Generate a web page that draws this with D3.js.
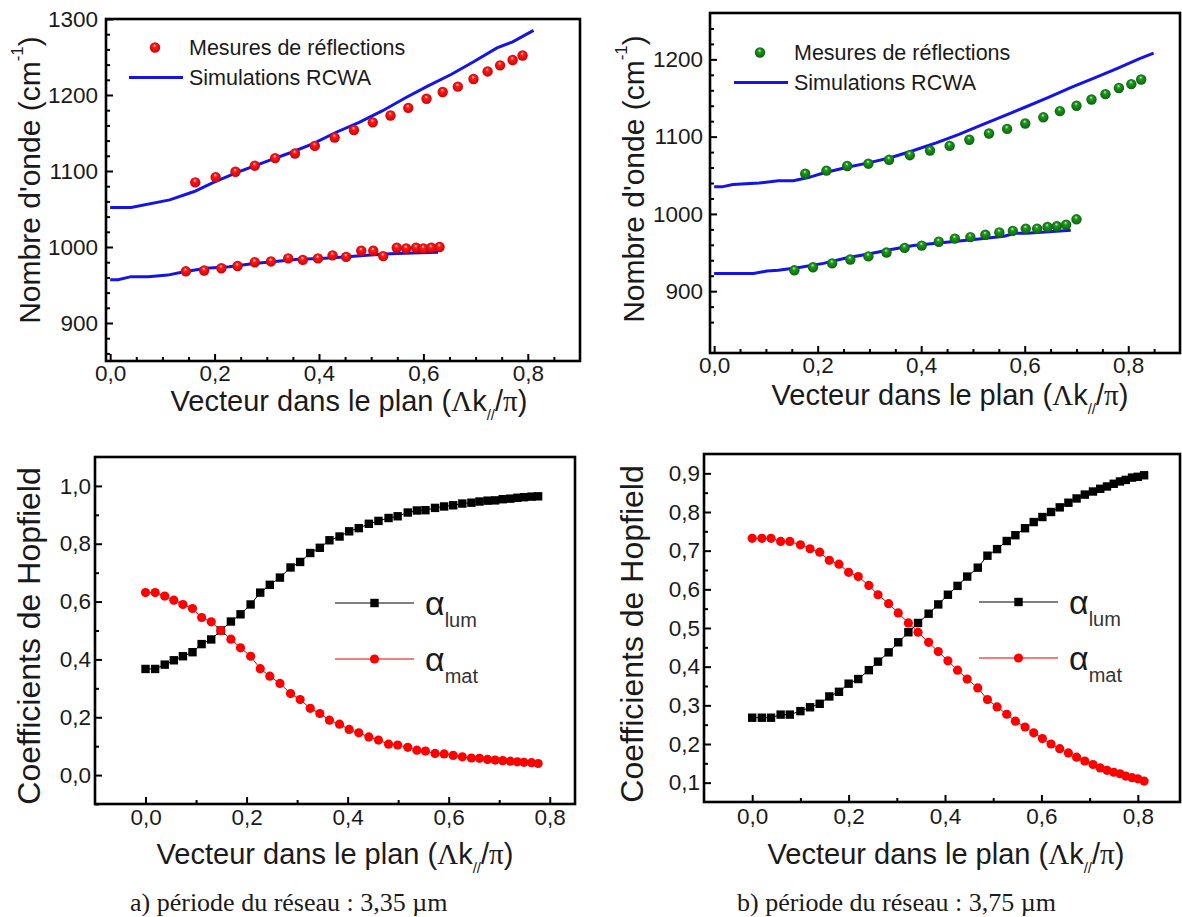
<!DOCTYPE html>
<html>
<head>
<meta charset="utf-8">
<script src="https://cdn.jsdelivr.net/npm/d3@7"></script>
<style>
  body { margin: 0; background: #fff; }
  svg text { font-family: "Liberation Sans", Arial, sans-serif; fill: #1a1a1a; }
</style>
</head>
<body>
<div id="chart"></div>
<script>
// ---- panel a) : dispersion, period 3.35 um ----
const kA_up = [0.163,0.202,0.240,0.277,0.316,0.354,0.392,0.430,0.467,0.503,0.537,0.571,0.606,0.637,0.666,0.696,0.723,0.747,0.771,0.790];
const wA_up = [1085,1092,1099,1107,1117,1123,1133,1144,1154,1164,1173,1183,1195,1204,1211,1221,1231,1239,1246,1252];
const kA_lo = [0.145,0.180,0.213,0.244,0.277,0.308,0.341,0.369,0.398,0.426,0.452,0.481,0.504,0.523,0.549,0.567,0.586,0.600,0.615,0.631];
const wA_lo = [968,969,972,975,980,981,985,983,985,989,987,995,995,988,999,998,999,998,999,1000];
const kA_simUp = [0,0.04,0.114,0.161,0.198,0.242,0.301,0.345,0.389,0.433,0.477,0.521,0.565,0.609,0.653,0.697,0.741,0.771,0.811];
const wA_simUp = [1052,1052,1062,1073,1085,1098,1113,1124,1136,1151,1164,1179,1196,1212,1227,1244,1262,1270,1285];
const kA_simLo = [0,0.015,0.04,0.073,0.11,0.139,0.183,0.228,0.272,0.316,0.36,0.404,0.448,0.492,0.536,0.58,0.628];
const wA_simLo = [957,957,961,961,963,967,972,974,978,981,984,985,987,989,991,992,993];

// ---- panel b) : dispersion, period 3.75 um ----
const kB_up = [0.176,0.217,0.257,0.298,0.338,0.378,0.417,0.455,0.493,0.531,0.566,0.601,0.636,0.668,0.700,0.729,0.756,0.782,0.806,0.825];
const wB_up = [1052,1056,1062,1065,1070,1076,1082,1088,1096,1104,1110,1117,1125,1133,1140,1148,1155,1163,1168,1174];
const kB_lo = [0.155,0.191,0.228,0.263,0.298,0.333,0.368,0.401,0.434,0.465,0.495,0.524,0.551,0.577,0.602,0.624,0.644,0.662,0.680,0.700];
const wB_lo = [927,931,936,941,945,950,956,959,964,968,970,973,976,978,981,981,983,984,986,993];
const kB_simUp = [0,0.015,0.036,0.087,0.124,0.153,0.182,0.211,0.255,0.298,0.342,0.385,0.429,0.473,0.516,0.56,0.604,0.647,0.691,0.735,0.778,0.822,0.849];
const wB_simUp = [1035,1035,1038,1040,1043,1043,1047,1053,1060,1066,1073,1082,1092,1103,1115,1127,1139,1151,1164,1176,1188,1201,1208];
const kB_simLo = [0,0.076,0.102,0.124,0.167,0.211,0.255,0.298,0.342,0.385,0.429,0.473,0.516,0.56,0.582,0.604,0.647,0.689];
const wB_simLo = [923,923,926,927,931,936,943,948,954,959,962,965,968,971,975,975,977,979];

// ---- Hopfield coefficients ----
const kC = [0,0.019,0.038,0.056,0.074,0.093,0.111,0.130,0.149,0.169,0.188,0.208,0.227,0.246,0.266,0.287,0.306,0.326,0.345,0.364,0.384,0.403,0.422,0.442,0.461,0.481,0.499,0.519,0.537,0.554,0.573,0.591,0.609,0.627,0.645,0.661,0.677,0.692,0.707,0.722,0.736,0.749,0.764,0.777];
const lumC = [0.367,0.367,0.382,0.397,0.411,0.425,0.453,0.469,0.500,0.531,0.556,0.590,0.631,0.658,0.683,0.718,0.737,0.768,0.786,0.812,0.825,0.843,0.854,0.869,0.879,0.889,0.895,0.908,0.915,0.916,0.924,0.929,0.933,0.939,0.942,0.946,0.949,0.950,0.954,0.956,0.959,0.961,0.963,0.964];
const matC = [0.631,0.631,0.619,0.605,0.590,0.576,0.545,0.530,0.500,0.470,0.440,0.411,0.368,0.342,0.317,0.282,0.261,0.231,0.213,0.190,0.176,0.158,0.146,0.132,0.121,0.107,0.104,0.096,0.086,0.083,0.075,0.073,0.068,0.063,0.059,0.058,0.054,0.052,0.050,0.048,0.046,0.044,0.043,0.040];

const kD = [0,0.020,0.039,0.059,0.078,0.100,0.120,0.140,0.160,0.180,0.200,0.220,0.242,0.261,0.283,0.303,0.324,0.344,0.366,0.386,0.406,0.426,0.446,0.468,0.488,0.508,0.528,0.546,0.566,0.584,0.602,0.620,0.638,0.656,0.673,0.690,0.707,0.722,0.736,0.750,0.763,0.775,0.788,0.800,0.813];
const lumD = [0.268,0.268,0.268,0.276,0.276,0.285,0.295,0.304,0.323,0.335,0.356,0.368,0.391,0.413,0.437,0.463,0.489,0.513,0.537,0.561,0.586,0.609,0.633,0.656,0.687,0.704,0.725,0.740,0.758,0.774,0.787,0.800,0.812,0.824,0.835,0.845,0.853,0.860,0.866,0.873,0.879,0.883,0.889,0.891,0.895];
const matD = [0.732,0.732,0.732,0.724,0.724,0.715,0.705,0.696,0.675,0.665,0.644,0.633,0.610,0.586,0.563,0.539,0.513,0.489,0.463,0.439,0.415,0.391,0.368,0.345,0.315,0.296,0.277,0.259,0.244,0.229,0.214,0.200,0.188,0.177,0.166,0.156,0.147,0.138,0.132,0.127,0.123,0.117,0.113,0.110,0.104];

// ---- ticks ----
const xMajor = [0, 0.2, 0.4, 0.6, 0.8];
const xMinorTop = [0.05,0.1,0.15,0.25,0.3,0.35,0.45,0.5,0.55,0.65,0.7,0.75,0.85];
const xMinorBot = [0.1, 0.3, 0.5, 0.7];
const yMajorA = [900, 1000, 1100, 1200, 1300];
const yMajorB = [900, 1000, 1100, 1200];
const yMinorW = [860,880,920,940,960,980,1020,1040,1060,1080,1120,1140,1160,1180,1220,1240,1260,1280];
const yMajorC = [0, 0.2, 0.4, 0.6, 0.8, 1.0];
const yMinorC = [-0.1, 0.1, 0.3, 0.5, 0.7, 0.9];
const yMajorD = [0.1,0.2,0.3,0.4,0.5,0.6,0.7,0.8,0.9];
const yMinorD = [0.15,0.25,0.35,0.45,0.55,0.65,0.75,0.85];

const legendA = ["Mesures de réflections", "Simulations RCWA"];
const captions = ["a) période du réseau : 3,35 µm", "b) période du réseau : 3,75 µm"];

const W = 1182, H = 917;
const svg = d3.select("#chart").append("svg").attr("width", W).attr("height", H);
const defs = svg.append("defs");

function sphere(id, hi, mid, dark) {
    const g = defs.append("radialGradient").attr("id", id)
        .attr("cx", "50%").attr("cy", "50%").attr("r", "55%")
        .attr("fx", "45%").attr("fy", "28%");
    g.append("stop").attr("offset", "0%").attr("stop-color", hi);
    g.append("stop").attr("offset", "30%").attr("stop-color", mid);
    g.append("stop").attr("offset", "100%").attr("stop-color", dark);
}
sphere("redBall", "#ffe0e0", "#ff1a1a", "#c80000");
sphere("greenBall", "#d8f0d8", "#1d9a1d", "#0b5c0b");

const fmtComma = d => d3.format(".1f")(d).replace(".", ",");
const TICK_FONT = "22.5px";

function panel(p) {
    const g = svg.append("g");
    const x = d3.scaleLinear().domain(p.xDomain).range([p.left, p.right]);
    const y = d3.scaleLinear().domain(p.yDomain).range([p.bottom, p.top]);

    const axes = [
        g.append("g").attr("transform", `translate(0,${p.bottom})`)
            .call(d3.axisBottom(x).tickValues(p.xMinor).tickSize(-4).tickSizeOuter(0).tickFormat("")),
        g.append("g").attr("transform", `translate(0,${p.bottom})`)
            .call(d3.axisBottom(x).tickValues(xMajor).tickSize(-7).tickSizeOuter(0)
                .tickPadding(p.xPad).tickFormat(fmtComma)),
        g.append("g").attr("transform", `translate(${p.left},0)`)
            .call(d3.axisLeft(y).tickValues(p.yMinor).tickSize(-4).tickSizeOuter(0).tickFormat("")),
        g.append("g").attr("transform", `translate(${p.left},0)`)
            .call(d3.axisLeft(y).tickValues(p.yMajor).tickSize(-7).tickSizeOuter(0)
                .tickPadding(p.yPad).tickFormat(p.yFmt))
    ];
    axes.forEach(a => {
        a.select(".domain").remove();
        a.selectAll("line").attr("stroke", "#000").attr("stroke-width", 2);
        a.selectAll("text").style("font-size", TICK_FONT);
    });

    g.append("rect")
        .attr("x", p.left).attr("y", p.top)
        .attr("width", p.right - p.left).attr("height", p.bottom - p.top)
        .attr("fill", "none").attr("stroke", "#000").attr("stroke-width", 2.6);

    // x title
    const xt = g.append("text").attr("x", p.xTitle[0]).attr("y", p.xTitle[1])
        .attr("text-anchor", "middle").style("font-size", "29px");
    xt.append("tspan").text("Vecteur dans le plan (");
    xt.append("tspan").style("font-family", "'Liberation Serif', serif").text("Λ");
    xt.append("tspan").text("k");
    xt.append("tspan").attr("dy", 9).style("font-size", "15px").text("//");
    xt.append("tspan").attr("dy", -9).text("/");
    xt.append("tspan").style("font-family", "'Liberation Serif', serif").text("π");
    xt.append("tspan").text(")");

    // y title
    const yt = g.append("text")
        .attr("transform", `translate(${p.yTitle[0]},${p.yTitle[1]}) rotate(-90)`)
        .attr("text-anchor", "middle").attr("dominant-baseline", "central")
        .style("font-size", p.yTitleSize);
    if (p.wave) {
        yt.append("tspan").text("Nombre d'onde (cm");
        yt.append("tspan").attr("dy", -12).style("font-size", "17px").text("-1");
        yt.append("tspan").attr("dy", 12).text(")");
    } else {
        yt.text("Coefficients de Hopfield");
    }
    return { g, x, y };
}

const line = (x, y) => d3.line().x(d => x(d[0])).y(d => y(d[1]));
const zip = (a, b) => a.map((v, i) => [v, b[i]]);

// ---------- dispersion panels ----------
function dispersion(p, sims, meas, ball, legendPos) {
    const { g, x, y } = panel(p);
    sims.forEach(([k, w]) => {
        g.append("path").datum(zip(k, w))
            .attr("d", line(x, y)).attr("fill", "none")
            .attr("stroke", "#1414e6").attr("stroke-width", 3);
    });
    meas.forEach(([k, w]) => {
        g.append("g").selectAll("circle").data(zip(k, w)).join("circle")
            .attr("cx", d => x(d[0])).attr("cy", d => y(d[1])).attr("r", 5.2)
            .attr("fill", `url(#${ball})`);
    });
    const [lx, ly] = legendPos;
    g.append("circle").attr("cx", lx + 26).attr("cy", ly).attr("r", 5.2).attr("fill", `url(#${ball})`);
    g.append("line").attr("x1", lx).attr("x2", lx + 54).attr("y1", ly + 30).attr("y2", ly + 30)
        .attr("stroke", "#1414e6").attr("stroke-width", 3);
    legendA.forEach((t, i) => {
        g.append("text").attr("x", lx + 60).attr("y", ly + i * 30)
            .attr("dominant-baseline", "central").style("font-size", "21.5px").text(t);
    });
}

dispersion({
    left: 106, right: 580, top: 19, bottom: 361,
    xDomain: [-0.008, 0.9], yDomain: [850, 1300],
    xMinor: xMinorTop, yMajor: yMajorA, yMinor: yMinorW, yFmt: d3.format("d"),
    xPad: 4, yPad: 8, xTitle: [349, 411], yTitle: [29, 180], yTitleSize: "30px", wave: true
}, [[kA_simUp, wA_simUp], [kA_simLo, wA_simLo]], [[kA_up, wA_up], [kA_lo, wA_lo]], "redBall", [129, 47.5]);

dispersion({
    left: 710, right: 1180, top: 13, bottom: 353,
    xDomain: [-0.008, 0.9], yDomain: [820, 1260],
    xMinor: xMinorTop, yMajor: yMajorB, yMinor: yMinorW.filter(v => v > 820 && v < 1260), yFmt: d3.format("d"),
    xPad: 4, yPad: 7, xTitle: [950, 405], yTitle: [633, 179], yTitleSize: "30px", wave: true
}, [[kB_simUp, wB_simUp], [kB_simLo, wB_simLo]], [[kB_up, wB_up], [kB_lo, wB_lo]], "greenBall", [734, 52.5]);

// ---------- Hopfield panels ----------
function hopfield(p, k, lum, mat, legendPos) {
    const { g, x, y } = panel(p);
    g.append("path").datum(zip(k, lum)).attr("d", line(x, y))
        .attr("fill", "none").attr("stroke", "#000").attr("stroke-width", 1);
    g.append("path").datum(zip(k, mat)).attr("d", line(x, y))
        .attr("fill", "none").attr("stroke", "#e00000").attr("stroke-width", 1);
    g.append("g").selectAll("rect").data(zip(k, lum)).join("rect")
        .attr("x", d => x(d[0]) - 4.2).attr("y", d => y(d[1]) - 4.2)
        .attr("width", 8.4).attr("height", 8.4).attr("fill", "#000");
    g.append("g").selectAll("circle").data(zip(k, mat)).join("circle")
        .attr("cx", d => x(d[0])).attr("cy", d => y(d[1])).attr("r", 4.6).attr("fill", "#ff0000");

    const [lx, ly] = legendPos;
    const rows = [["lum", "#000", "sq"], ["mat", "#e00000", "ci"]];
    rows.forEach(([sub, col, mk], i) => {
        const yy = ly + i * 56;
        g.append("line").attr("x1", lx).attr("x2", lx + 79).attr("y1", yy).attr("y2", yy)
            .attr("stroke", col).attr("stroke-width", 1);
        if (mk === "sq") {
            g.append("rect").attr("x", lx + 39.5 - 4.2).attr("y", yy - 4.2)
                .attr("width", 8.4).attr("height", 8.4).attr("fill", "#000");
        } else {
            g.append("circle").attr("cx", lx + 39.5).attr("cy", yy).attr("r", 4.6).attr("fill", "#ff0000");
        }
        const t = g.append("text").attr("x", lx + 90).attr("y", yy + 12);
        t.append("tspan").style("font-size", "34px").text("α");
        t.append("tspan").attr("dy", 12).style("font-size", "20px").style("fill", "#333").text(sub);
    });
}

hopfield({
    left: 95, right: 575, top: 457, bottom: 804,
    xDomain: [-0.1, 0.85], yDomain: [-0.1, 1.1],
    xMinor: xMinorBot, yMajor: yMajorC, yMinor: yMinorC, yFmt: fmtComma,
    xPad: 5, yPad: 4, xTitle: [335, 864], yTitle: [29, 636], yTitleSize: "32px", wave: false
}, kC, lumC, matC, [335, 603]);

hopfield({
    left: 704, right: 1180, top: 454, bottom: 802,
    xDomain: [-0.1, 0.8875], yDomain: [0.05, 0.95],
    xMinor: xMinorBot, yMajor: yMajorD, yMinor: yMinorD, yFmt: fmtComma,
    xPad: 6, yPad: 4, xTitle: [946, 864], yTitle: [632, 634], yTitleSize: "32px", wave: false
}, kD, lumD, matD, [979, 602]);

// ---------- captions ----------
[[130, 903], [737, 903]].forEach(([cx, cy], i) => {
    svg.append("text").attr("x", cx).attr("y", cy + 8)
        .style("font-family", "'Liberation Serif', 'DejaVu Serif', serif")
        .style("font-size", "26px").text(captions[i]);
});
</script>
</body>
</html>
